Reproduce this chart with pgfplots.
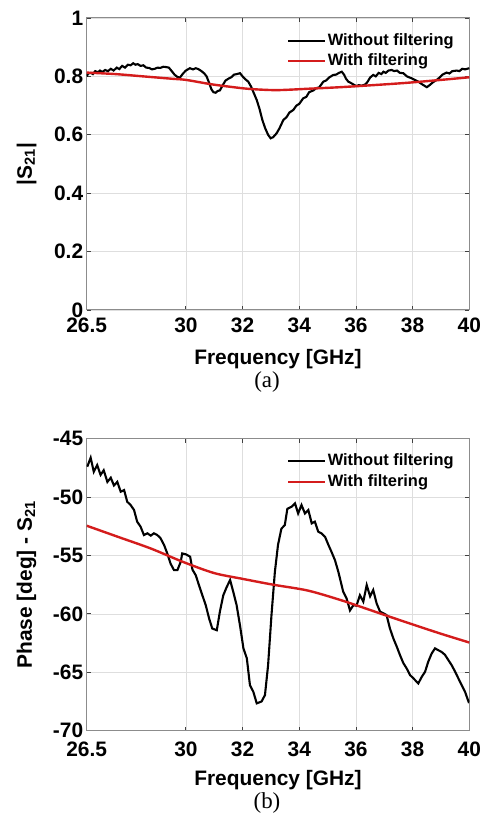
\documentclass[border=0pt]{standalone}
\usepackage{fontspec}
\setmainfont{Liberation Sans}
\newfontfamily\capfont{Liberation Serif}
\usepackage{pgfplots}
\pgfplotsset{compat=1.18}
\definecolor{myred}{RGB}{212,28,28}
\pgfplotsset{
  myaxis/.style={
    scale only axis, width=382.6bp, height=292bp,
    xmin=26.5, xmax=40,
    xtick={26.5,30,32,34,36,38,40},
    xticklabels={26.5,30,32,34,36,38,40},
    grid=major, major grid style={black!13, line width=0.6bp},
    axis line style={black!45, line width=1bp},
    tick align=inside, xtick pos=both, ytick pos=both,
    major tick length=4bp, tick style={black!75, line width=0.8bp},
    ticklabel style={font=\fontsize{21}{24}\selectfont\bfseries},
    label style={font=\fontsize{21}{24}\selectfont\bfseries},
    xlabel={Frequency [GHz]},
    ylabel style={at={(axis description cs:-0.157,0.5)}, anchor=center},
    legend cell align=left,
    legend style={draw=none, fill=none, at={(axis description cs:1,1)}, anchor=north east,
      xshift=-11bp, yshift=-11bp, font=\fontsize{16.5}{18}\selectfont\bfseries,
      row sep=1.5bp, column sep=0pt, nodes={inner sep=1.5bp, text height=12.5bp, text depth=3.5bp}},
    legend image code/.code={\draw[#1] (0bp,0bp) -- (37bp,0bp);},
  }
}
\begin{document}
\begin{tikzpicture}
\useasboundingbox (0,0) rectangle (488bp,821bp);
\begin{axis}[myaxis, at={(86.7bp,511bp)}, anchor=south west,
  ymin=0, ymax=1, ytick={0,0.2,0.4,0.6,0.8,1},
  yticklabels={0,0.2,0.4,0.6,0.8,1},
  xticklabel style={yshift=-4bp},
  xlabel style={at={(axis description cs:0.5,-0.168)}, anchor=center},
  ylabel={|S\textsubscript{21}|}]
\addplot[black, line width=2.1bp] coordinates {
(26.50,0.800) (26.55,0.810) (26.65,0.812) (26.72,0.808) (26.80,0.818) (26.90,0.814)
(26.97,0.820) (27.05,0.815) (27.15,0.822) (27.25,0.818) (27.35,0.826) (27.45,0.820)
(27.56,0.830) (27.65,0.825) (27.75,0.836) (27.85,0.830) (27.95,0.840) (28.05,0.838)
(28.14,0.845) (28.22,0.840) (28.30,0.842) (28.40,0.836) (28.50,0.838) (28.60,0.830)
(28.70,0.829) (28.80,0.824) (28.90,0.826) (29.00,0.830) (29.10,0.829) (29.20,0.833)
(29.30,0.832) (29.40,0.830) (29.50,0.818) (29.60,0.806) (29.70,0.798) (29.79,0.796)
(29.90,0.810) (30.00,0.820) (30.14,0.828) (30.25,0.824) (30.35,0.828) (30.44,0.825)
(30.55,0.818) (30.65,0.810) (30.73,0.800) (30.82,0.778) (30.90,0.756) (30.97,0.746)
(31.05,0.744) (31.12,0.750) (31.20,0.752) (31.30,0.770) (31.40,0.786) (31.50,0.792)
(31.60,0.797) (31.70,0.806) (31.80,0.808) (31.91,0.811) (32.00,0.800) (32.10,0.790)
(32.20,0.782) (32.30,0.765) (32.40,0.742) (32.50,0.719) (32.60,0.688) (32.70,0.650)
(32.80,0.622) (32.90,0.600) (32.99,0.588) (33.08,0.592) (33.20,0.605) (33.30,0.622)
(33.44,0.651) (33.55,0.660) (33.65,0.676) (33.79,0.685) (33.90,0.700) (34.00,0.706)
(34.14,0.725) (34.25,0.730) (34.35,0.746) (34.50,0.752) (34.60,0.760) (34.70,0.762)
(34.85,0.782) (34.95,0.786) (35.05,0.796) (35.20,0.805) (35.30,0.806) (35.40,0.812)
(35.50,0.816) (35.58,0.806) (35.65,0.792) (35.73,0.782) (35.85,0.776) (35.95,0.770)
(36.03,0.767) (36.10,0.770) (36.20,0.768) (36.32,0.772) (36.40,0.780) (36.50,0.796)
(36.61,0.805) (36.70,0.800) (36.80,0.812) (36.90,0.808) (36.97,0.816) (37.05,0.812)
(37.15,0.820) (37.26,0.822) (37.35,0.818) (37.45,0.820) (37.55,0.812) (37.67,0.811)
(37.80,0.800) (37.95,0.794) (38.08,0.788) (38.20,0.782) (38.35,0.772) (38.50,0.763)
(38.60,0.770) (38.72,0.780) (38.85,0.788) (38.95,0.796) (39.05,0.806) (39.20,0.813)
(39.30,0.810) (39.40,0.818) (39.56,0.820) (39.65,0.818) (39.75,0.826) (39.85,0.824)
(40.00,0.828)
};
\addlegendentry{Without filtering}
\addplot[myred, line width=2.4bp, smooth] coordinates {
(26.5,0.813) (27.5,0.808) (28.5,0.800) (29.5,0.792) (30.0,0.788) (30.9,0.773)
(31.6,0.764) (32.26,0.757) (33.2,0.753) (34.38,0.758) (35.44,0.763) (36.6,0.770)
(37.8,0.778) (39.0,0.788) (40.0,0.797)
};
\addlegendentry{With filtering}
\end{axis}
\node[font=\capfont\fontsize{23}{26}\selectfont] at (267bp,439.3bp) {(a)};
\begin{axis}[myaxis, at={(86.7bp,90.3bp)}, anchor=south west,
  ymin=-70, ymax=-45, ytick={-70,-65,-60,-55,-50,-45},
  yticklabels={-70,-65,-60,-55,-50,-45},
  xticklabel style={yshift=-7.5bp},
  xlabel style={at={(axis description cs:0.5,-0.168)}, anchor=center},
  ylabel={Phase [deg] - S\textsubscript{21}}]
\addplot[black, line width=2.1bp] coordinates {
(26.52,-47.4) (26.64,-46.63) (26.75,-47.83) (26.87,-47.26) (26.99,-48.1) (27.10,-47.7)
(27.23,-48.7) (27.35,-48.34) (27.46,-49.0) (27.58,-48.7) (27.70,-49.54) (27.82,-49.4)
(27.93,-50.4) (28.05,-50.68) (28.17,-51.1) (28.28,-52.1) (28.40,-52.53) (28.52,-53.25)
(28.64,-53.1) (28.76,-53.3) (28.87,-53.1) (28.99,-53.25) (29.10,-53.5) (29.23,-54.1)
(29.34,-54.8) (29.46,-55.7) (29.58,-56.25) (29.70,-56.25) (29.82,-55.53) (29.87,-54.82)
(30.00,-54.9) (30.15,-55.1) (30.23,-56.2) (30.35,-56.7) (30.46,-57.53) (30.58,-58.4)
(30.70,-59.25) (30.82,-60.4) (30.93,-61.25) (31.09,-61.4) (31.20,-59.8) (31.32,-58.4)
(31.44,-57.7) (31.56,-57.1) (31.67,-58.1) (31.79,-59.25) (31.91,-61.0) (32.03,-62.95)
(32.15,-63.8) (32.26,-66.1) (32.38,-66.67) (32.50,-67.66) (32.67,-67.5) (32.79,-66.95)
(32.90,-64.4) (33.02,-60.1) (33.14,-56.4) (33.25,-54.1) (33.37,-52.7) (33.49,-52.4)
(33.58,-51.0) (33.73,-50.82) (33.85,-50.54) (33.96,-51.4) (34.08,-50.68) (34.20,-51.4)
(34.32,-51.1) (34.44,-52.25) (34.55,-52.1) (34.67,-52.96) (34.78,-53.1) (34.91,-53.4)
(35.03,-54.1) (35.14,-54.7) (35.26,-55.4) (35.38,-56.4) (35.55,-58.1) (35.67,-58.67)
(35.79,-59.7) (35.91,-59.25) (36.02,-59.3) (36.14,-58.4) (36.26,-58.95) (36.38,-57.53)
(36.50,-58.5) (36.61,-57.96) (36.73,-59.1) (36.85,-59.8) (36.97,-59.95) (37.08,-60.1)
(37.20,-61.25) (37.32,-62.1) (37.44,-62.8) (37.55,-63.5) (37.67,-64.2) (37.79,-64.67)
(37.91,-65.24) (38.02,-65.5) (38.20,-65.95) (38.32,-65.4) (38.44,-64.95) (38.55,-64.1)
(38.67,-63.4) (38.79,-62.95) (38.90,-63.1) (39.02,-63.25) (39.14,-63.5) (39.26,-63.95)
(39.38,-64.4) (39.50,-64.95) (39.61,-65.5) (39.73,-66.1) (39.85,-66.67) (39.97,-67.5)
(40.00,-67.4)
};
\addlegendentry{Without filtering}
\addplot[myred, line width=2.4bp, smooth] coordinates {
(26.5,-52.45) (27.6,-53.4) (28.76,-54.4) (29.9,-55.55) (30.99,-56.5) (32.0,-57.0)
(33.08,-57.5) (34.3,-58.0) (35.44,-58.8) (36.3,-59.5) (37.08,-60.15) (38.0,-60.9)
(39.0,-61.7) (40.0,-62.45)
};
\addlegendentry{With filtering}
\end{axis}
\node[font=\capfont\fontsize{23}{26}\selectfont] at (267bp,18bp) {(b)};
\end{tikzpicture}
\end{document}
